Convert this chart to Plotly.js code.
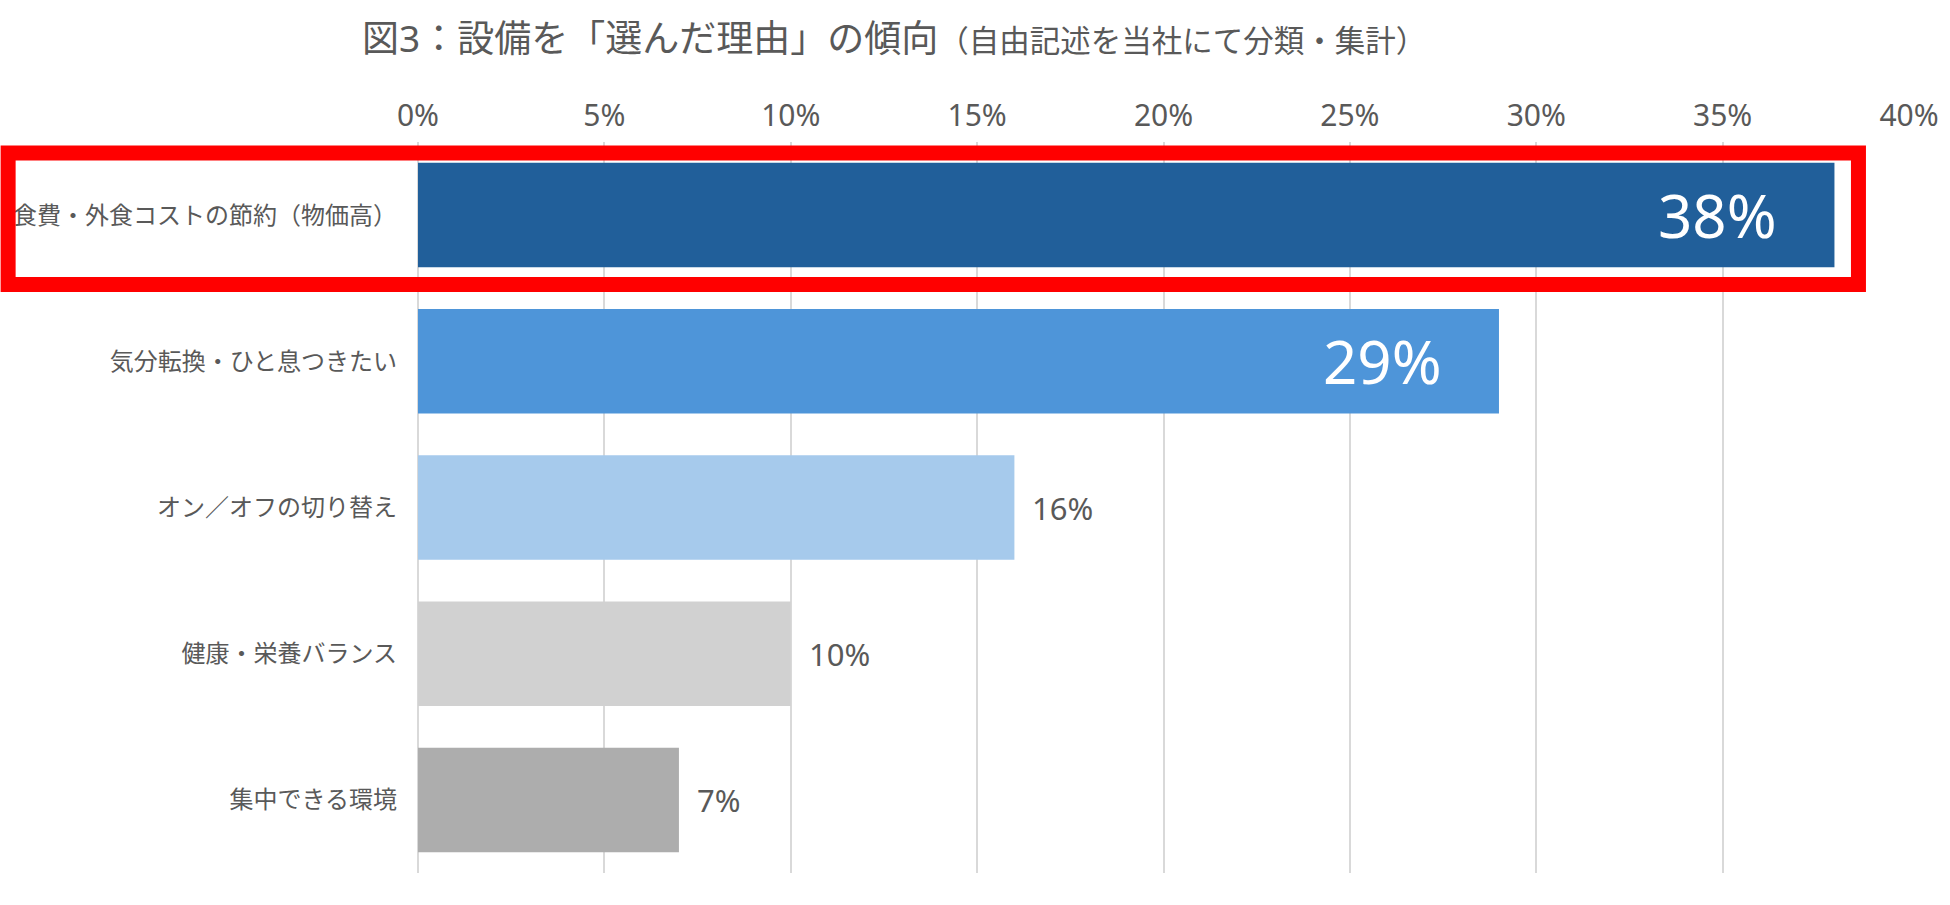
<!DOCTYPE html>
<html>
<head>
<meta charset="utf-8">
<script src="https://cdn.plot.ly/plotly-3.0.1.min.js"></script>
<style>
  html, body { margin: 0; padding: 0; background: #ffffff; }
  #chart { width: 1950px; height: 905px; }
</style>
</head>
<body>
<div id="chart"></div>
<script>
// ---- data ----
const categories = [
  "食費・外食コストの節約（物価高）",
  "気分転換・ひと息つきたい",
  "オン／オフの切り替え",
  "健康・栄養バランス",
  "集中できる環境"
];
const values = [38, 29, 16, 10, 7];
const barColors = ["#215F9A", "#4E95D9", "#A6CAEC", "#D1D1D1", "#ADADAD"];
const tickVals = [0, 5, 10, 15, 20, 25, 30, 35, 40];
const tickText = ["0%", "5%", "10%", "15%", "20%", "25%", "30%", "35%", "40%"];
const titleMain = "図3：設備を「選んだ理由」の傾向";
const titleSub = "（自由記述を当社にて分類・集計）";
const highlightIndex = 0;

const FONT = "'Noto Sans', 'Noto Sans CJK JP', sans-serif";
const GRAY = "#595959";

const trace = {
  type: "bar",
  orientation: "h",
  y: categories,
  x: values,
  marker: { color: barColors, line: { width: 0 } },
  hoverinfo: "skip",
  cliponaxis: false
};

// value labels: large white inside for big bars, gray outside for small bars
const annotations = values.map((v, i) => {
  const inside = v >= 20;
  return {
    xref: "x", yref: "y",
    x: v, y: categories[i],
    text: v + "%",
    showarrow: false,
    xanchor: inside ? "right" : "left",
    xshift: inside ? -55 : 16,
    font: inside ? { family: FONT, size: 60, color: "#ffffff" }
                 : { family: FONT, size: 31, color: GRAY }
  };
});

// title as rich text annotation
annotations.push({
  xref: "paper", yref: "paper",
  x: -0.0386, y: 1.1423,
  xanchor: "left", yanchor: "middle",
  showarrow: false,
  text: "<span style='font-size:37px'>" + titleMain + "</span><span style='font-size:30.5px'>" + titleSub + "</span>",
  font: { family: FONT, size: 37, color: GRAY }
});

const layout = {
  width: 1950, height: 905,
  margin: { l: 417.5, r: 41, t: 142, b: 32 },
  paper_bgcolor: "#ffffff",
  plot_bgcolor: "#ffffff",
  showlegend: false,
  bargap: 0.285,
  font: { family: FONT, color: GRAY },
  xaxis: {
    side: "top",
    range: [0, 40],
    tickvals: tickVals,
    ticktext: tickText,
    showgrid: true,
    gridcolor: "#D9D9D9",
    gridwidth: 2,
    zeroline: true,
    zerolinecolor: "#D9D9D9",
    zerolinewidth: 2,
    showline: false,
    ticks: "",
    ticklabelstandoff: 9,
    tickfont: { family: FONT, size: 30, color: GRAY },
    fixedrange: true
  },
  yaxis: {
    type: "category",
    autorange: "reversed",
    showgrid: false,
    zeroline: false,
    showline: false,
    ticks: "",
    ticklabelstandoff: 20,
    tickfont: { family: FONT, size: 24, color: GRAY },
    fixedrange: true
  },
  shapes: [{
    type: "rect",
    xref: "paper", yref: "y",
    x0: -0.2749, x1: 0.9661,
    y0: highlightIndex - 0.4248, y1: highlightIndex + 0.4747,
    line: { color: "#FF0000", width: 15 },
    fillcolor: "rgba(0,0,0,0)",
    layer: "above"
  }],
  annotations: annotations
};

Plotly.newPlot("chart", [trace], layout, { displayModeBar: false, staticPlot: true });
</script>
</body>
</html>
